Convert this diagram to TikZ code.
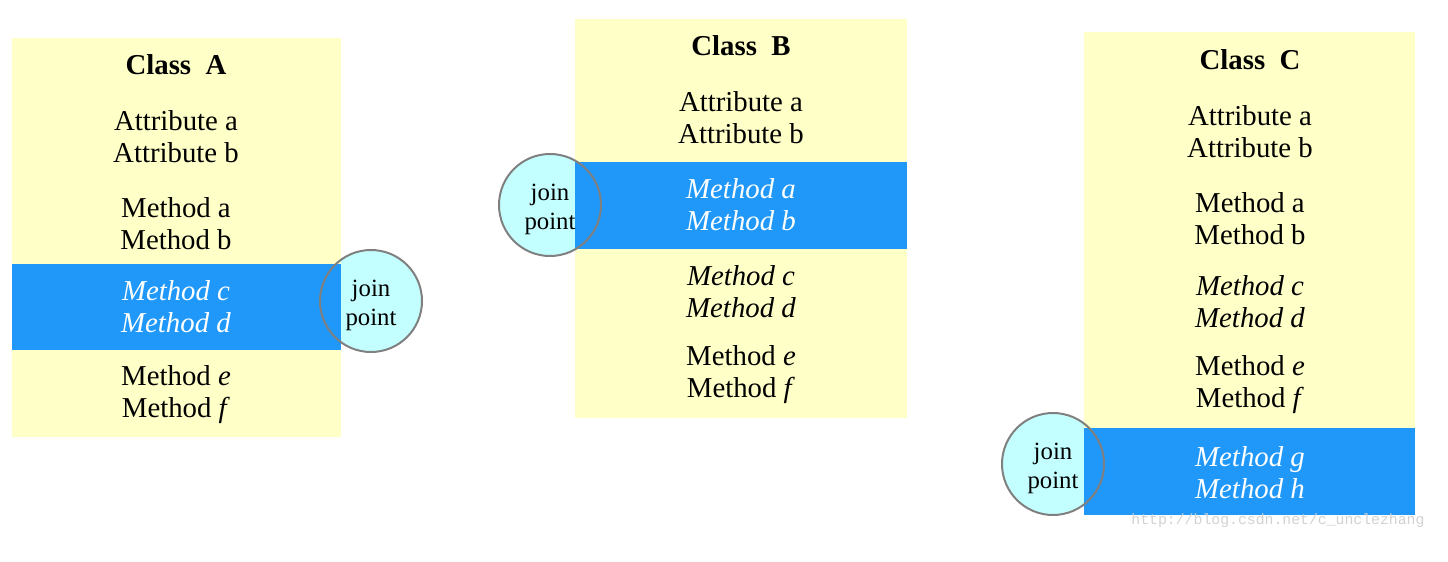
\documentclass[tikz,border=0pt]{standalone}
\usepackage{fontspec}
\setmainfont{Liberation Serif}
\newfontfamily\markfont{Liberation Mono}
\definecolor{classyellow}{RGB}{255,255,200}
\definecolor{joinblue}{RGB}{32,152,250}
\definecolor{pointcyan}{RGB}{196,255,255}
\definecolor{ringgray}{RGB}{128,128,128}
\begin{document}
\begin{tikzpicture}[x=0.5pt, y=-0.5pt,
    classbg/.style = {fill=classyellow},
    band/.style = {fill=joinblue},
    title/.style = {inner sep=0pt, font=\fontsize{14.4}{16}\selectfont\bfseries},
    member/.style = {inner sep=0pt, align=center, font=\fontsize{14.4}{16}\selectfont},
    hot/.style = {member, text=white},
    joinbg/.style = {circle, fill=pointcyan, minimum size=51pt, inner sep=0pt},
    joinring/.style = {circle, draw=ringgray, line width=1pt, minimum size=51pt, inner sep=0pt},
    joinlabel/.style = {inner sep=0pt, align=center, font=\fontsize{12.4}{14.5}\selectfont}]
        \useasboundingbox (0,0) rectangle (1448,562);
        % join point discs, behind the classes
        \node[joinbg] (jAbg) at (371,301) {};
        \node[joinbg] (jBbg) at (550,205) {};
        \node[joinbg] (jCbg) at (1053,464) {};
        % class boxes
        \fill[classbg] (12,38) rectangle (341,437);
        \fill[band] (12,264) rectangle (341,350);
        \fill[classbg] (575,19) rectangle (907,418);
        \fill[band] (575,162) rectangle (907,249);
        \fill[classbg] (1084,32) rectangle (1415,428);
        \fill[band] (1084,428) rectangle (1415,515);
        %
        \node[title] (tA) at (176,65) {Class\ \ A};
        \node[member] (aA) at (176,137) {Attribute a\\Attribute b};
        \node[member] (mA1) at (176,224) {Method a\\Method b};
        \node[hot] (mA2) at (176,307) {\itshape Method c\\\itshape Method d};
        \node[member] (mA3) at (176,395) {Method \textit{e}\\Method \textit{f}};
        %
        \node[title] (tB) at (741,46) {Class\ \ B};
        \node[member] (aB) at (741,118) {Attribute a\\Attribute b};
        \node[hot] (mB1) at (741,205) {\itshape Method a\\\itshape Method b};
        \node[member] (mB2) at (741,292) {\itshape Method c\\\itshape Method d};
        \node[member] (mB3) at (741,375) {Method \textit{e}\\Method \textit{f}};
        %
        \node[title] (tC) at (1250,60) {Class\ \ C};
        \node[member] (aC) at (1250,132) {Attribute a\\Attribute b};
        \node[member] (mC1) at (1250,219) {Method a\\Method b};
        \node[member] (mC2) at (1250,302) {\itshape Method c\\\itshape Method d};
        \node[member] (mC3) at (1250,385) {Method \textit{e}\\Method \textit{f}};
        \node[hot] (mC4) at (1250,473) {\itshape Method g\\\itshape Method h};
        % join point rings on top
        \node[joinring] (jA) at (jAbg) {};
        \node[joinring] (jB) at (jBbg) {};
        \node[joinring] (jC) at (jCbg) {};
        \node[joinlabel] (lA) at ([yshift=-2pt]jA.center) {join\\point};
        \node[joinlabel] (lB) at ([yshift=-2pt]jB.center) {join\\point};
        \node[joinlabel] (lC) at ([yshift=-2pt]jC.center) {join\\point};
        %
        \node[text=black!18, font=\markfont\fontsize{7.4}{8}\selectfont] (mark) at (1278,521) {http://blog.csdn.net/c\_unclezhang};
      \end{tikzpicture}
\end{document}
